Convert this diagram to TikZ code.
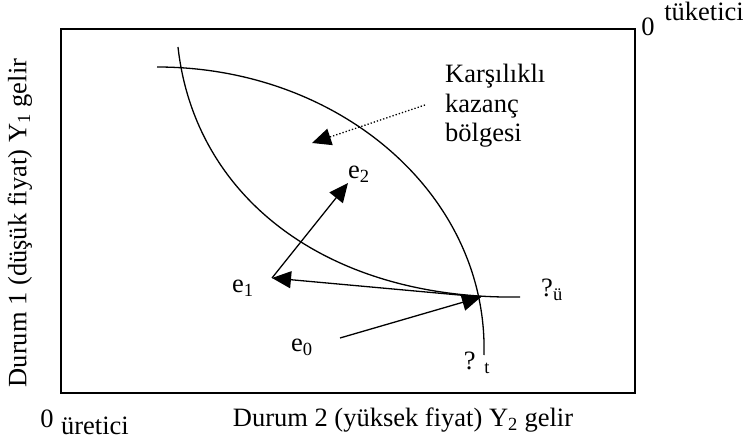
\documentclass[tikz,border=0pt]{standalone}
\usepackage{fontspec}
\setmainfont{Liberation Serif}
\usetikzlibrary{arrows.meta}
\begin{document}
\begin{tikzpicture}[x=1pt,y=-1pt,
  lbl/.style={inner sep=0pt,font=\fontsize{26.5}{30}\selectfont},
  curve/.style={line width=1.3pt},
  arr/.style={line width=1.3pt,-{Triangle[length=19pt,width=17pt]}},
  dotarr/.style={line width=1.3pt,dotted,-{Triangle[length=19pt,width=17pt]}}]
\useasboundingbox (0,0) rectangle (743,443);
% frame
\draw[line width=1.5pt] (61,29) rectangle (635,393);
% curves
\draw[curve] (157,67) .. controls (340,67) and (488,195) .. (484,355);
\draw[curve] (178,47) .. controls (195,200) and (330,300) .. (520,297);
% points
\coordinate (X) at (481,297);
\coordinate (E1) at (272,278);
\coordinate (E2) at (348,183);
\coordinate (E0) at (340,338);
\coordinate (D0) at (425,105);
\coordinate (D1) at (312,143);
% arrows
\draw[arr] (E0) -- (X);
\draw[arr] (X) -- (E1);
\draw[arr] (E1) -- (E2);
\draw[dotarr] (D0) -- (D1);
% labels
\node[lbl] (le2) at (359,174) {e\textsubscript{2}};
\node[lbl] (le1) at (243,288) {e\textsubscript{1}};
\node[lbl] (le0) at (302,347) {e\textsubscript{0}};
\node[lbl] (qu) at (552,290) {?\textsubscript{ü}};
\node[lbl] (qt) at (477,363) {? \textsubscript{t}};
\node[lbl,anchor=base west] (k1) at (445,83) {Karşılıklı};
\node[lbl,anchor=base west] (k2) at (445,113) {kazanç};
\node[lbl,anchor=base west] (k3) at (445,142) {bölgesi};
\node[lbl] (xl) at (403,420) {Durum 2 (yüksek fiyat) Y\textsubscript{2} gelir};
\node[lbl,rotate=90] (yl) at (20,223) {Durum 1 (düşük fiyat) Y\textsubscript{1} gelir};
\node[lbl] (o1) at (47,419) {0};
\node[lbl] (u1) at (95,426) {üretici};
\node[lbl] (o2) at (648,27) {0};
\node[lbl] (t2) at (704,11) {tüketici};
\end{tikzpicture}
\end{document}
